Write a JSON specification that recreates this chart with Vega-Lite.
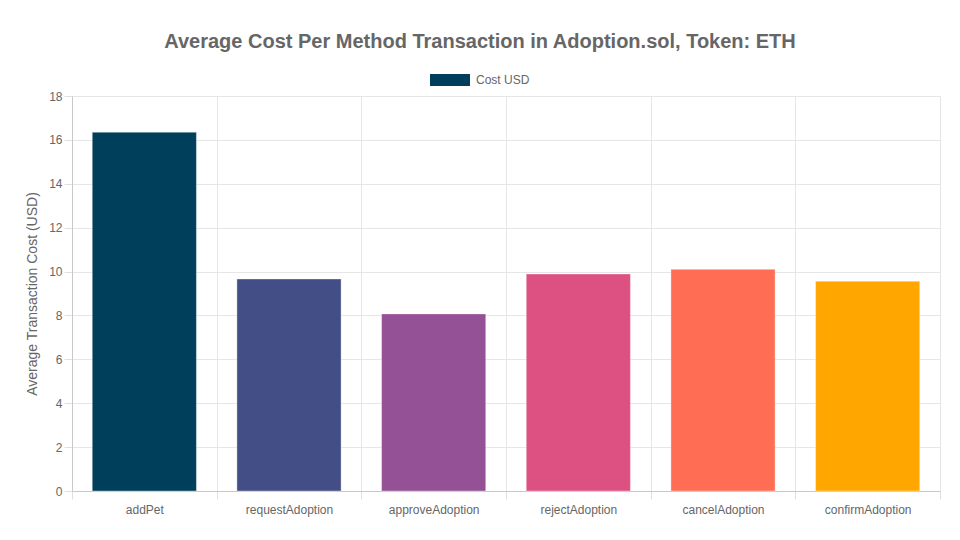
{
  "$schema": "https://vega.github.io/schema/vega-lite/v6.json",
  "width": 868,
  "height": 395,
  "autosize": {"type": "none"},
  "padding": {"left": 72, "top": 96, "right": 20, "bottom": 49},
  "background": "white",
  "config": {
    "font": "Liberation Sans",
    "view": {"stroke": null}
  },
  "title": {
    "text": "Average Cost Per Method Transaction in Adoption.sol, Token: ETH",
    "font": "Liberation Sans",
    "fontSize": 20,
    "fontWeight": "bold",
    "color": "#666666",
    "anchor": "middle",
    "frame": "group",
    "dx": -26,
    "offset": 8
  },
  "data": {
    "values": [
      {"method": "addPet", "cost": 16.35},
      {"method": "requestAdoption", "cost": 9.66},
      {"method": "approveAdoption", "cost": 8.07},
      {"method": "rejectAdoption", "cost": 9.89},
      {"method": "cancelAdoption", "cost": 10.1},
      {"method": "confirmAdoption", "cost": 9.56}
    ]
  },
  "layer": [
    {
      "mark": {"type": "bar", "width": {"band": 0.72}, "stroke": "white", "strokeOpacity": 0.35, "strokeWidth": 1},
      "encoding": {
        "x": {
          "field": "method",
          "type": "nominal",
          "sort": null,
          "scale": {"paddingInner": 0, "paddingOuter": 0},
          "axis": {
            "title": null,
            "labelAngle": 0,
            "labelFont": "Liberation Sans",
            "labelFontSize": 12,
            "labelColor": "#666666",
            "labelPadding": 5,
            "tickBand": "extent",
            "tickSize": 8,
            "tickColor": "#e0e0e0",
            "grid": true,
            "gridColor": "#e6e6e6",
            "domainColor": "#c8c8c8"
          }
        },
        "y": {
          "field": "cost",
          "type": "quantitative",
          "scale": {"domain": [0, 18], "nice": false},
          "axis": {
            "title": "Average Transaction Cost (USD)",
            "titleFont": "Liberation Sans",
            "titleFontSize": 14,
            "titleFontWeight": "normal",
            "titleColor": "#666666",
            "titlePadding": 9,
            "values": [0, 2, 4, 6, 8, 10, 12, 14, 16, 18],
            "labelFont": "Liberation Sans",
            "labelFontSize": 12,
            "labelColor": "#666666",
            "labelPadding": 2,
            "tickSize": 8,
            "tickColor": "#e0e0e0",
            "grid": true,
            "gridColor": "#e6e6e6",
            "domainColor": "#c8c8c8"
          }
        },
        "fill": {
          "field": "method",
          "type": "nominal",
          "sort": null,
          "scale": {
            "domain": ["addPet", "requestAdoption", "approveAdoption", "rejectAdoption", "cancelAdoption", "confirmAdoption"],
            "range": ["#003f5c", "#444e86", "#955196", "#dd5182", "#ff6e54", "#ffa600"]
          },
          "legend": null
        }
      }
    },
    {
      "mark": {"type": "square", "opacity": 0},
      "encoding": {
        "x": {"field": "method", "type": "nominal", "sort": null},
        "y": {"field": "cost", "type": "quantitative"},
        "color": {
          "datum": "Cost USD",
          "scale": {"domain": ["Cost USD"], "range": ["#003f5c"]},
          "legend": {
            "title": null,
            "orient": "none",
            "legendX": 358,
            "legendY": -36,
            "padding": 0,
            "symbolType": "M-1,-0.3L1,-0.3L1,0.3L-1,0.3Z",
            "symbolSize": 1600,
            "symbolOpacity": 1,
            "symbolFillColor": "#003f5c",
            "symbolStrokeWidth": 0,
            "labelFont": "Liberation Sans",
            "labelFontSize": 12,
            "labelColor": "#666666",
            "labelOffset": 6
          }
        }
      }
    }
  ]
}
